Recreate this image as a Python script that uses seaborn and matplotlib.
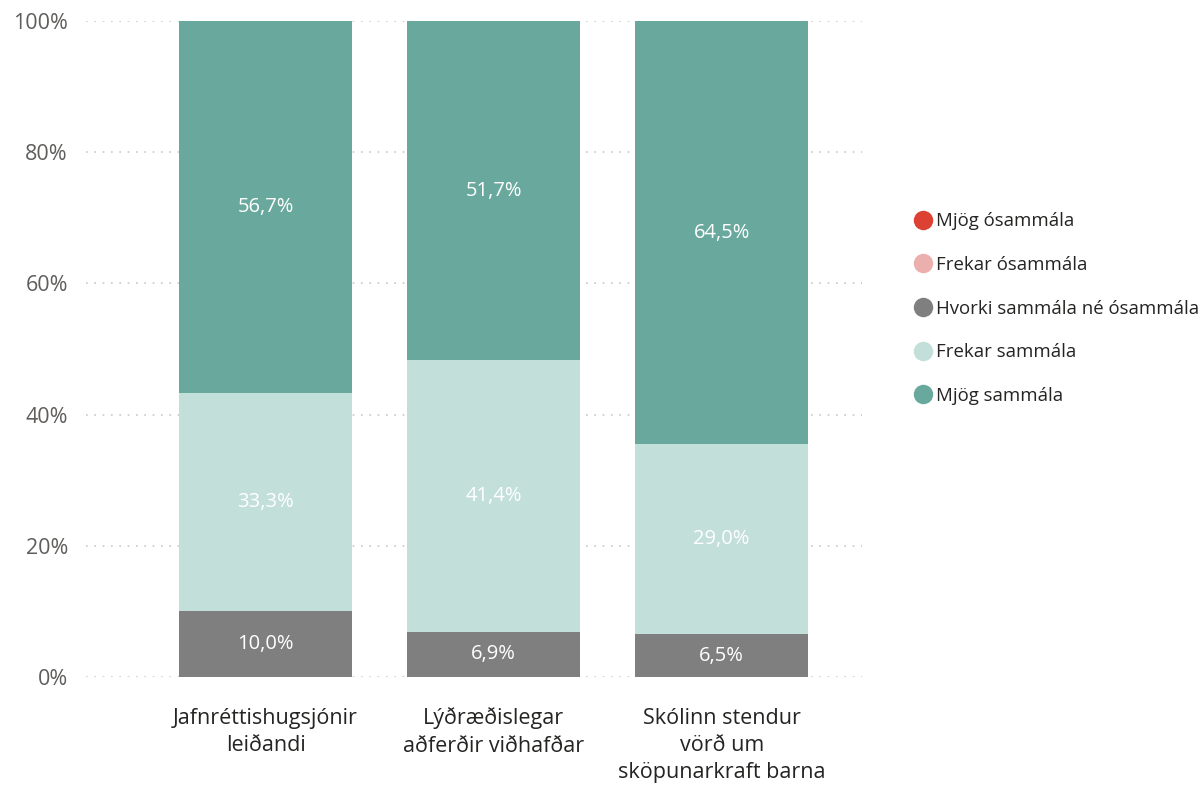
import matplotlib
matplotlib.use('Agg')
import matplotlib.pyplot as plt
import pandas as pd
import seaborn as sns
from matplotlib.lines import Line2D
from matplotlib.ticker import FuncFormatter

# gögnin lesin af myndinni
flokkar = [
    'Jafnréttishugsjónir\nleiðandi',
    'Lýðræðislegar\naðferðir viðhafðar',
    'Skólinn stendur\nvörð um\nsköpunarkraft barna',
]
svor = ['Mjög ósammála', 'Frekar ósammála', 'Hvorki sammála né ósammála',
        'Frekar sammála', 'Mjög sammála']
mjog_osammala = [0.0, 0.0, 0.0]
frekar_osammala = [0.0, 0.0, 0.0]
hvorki = [10.0, 6.9, 6.5]
frekar_sammala = [33.3, 41.4, 29.0]
mjog_sammala = [56.7, 51.7, 64.5]

litir = ['#DD4133', '#EBB0AE', '#7F7F7F', '#C3DFD9', '#69A99D']

df = pd.DataFrame({
    'flokkur': flokkar,
    svor[0]: mjog_osammala,
    svor[1]: frekar_osammala,
    svor[2]: hvorki,
    svor[3]: frekar_sammala,
    svor[4]: mjog_sammala,
})

sns.set_style('white')
plt.rcParams['font.family'] = ['Open Sans', 'DejaVu Sans']

fig = plt.figure(figsize=(12.03, 7.89), dpi=100)
ax = fig.add_axes([0.0715, 0.142, 0.645, 0.8314])

# staflað: teikna uppsafnaðar summur, efst fyrst
summa = df[svor].cumsum(axis=1)
for i in range(len(svor) - 1, -1, -1):
    sns.barplot(x=df['flokkur'], y=summa[svor[i]], color=litir[i],
                width=0.756, ax=ax, saturation=1, linewidth=0)

# merkingar inni í súlunum
for j in range(len(flokkar)):
    nedst = 0
    for i, s in enumerate(svor):
        v = df[s][j]
        if v > 0:
            ax.text(j, nedst + v / 2, f'{v:.1f}%'.replace('.', ','),
                    ha='center', va='center', color='white', fontsize=14.5)
        nedst += v

ax.set_ylim(0, 100)
ax.set_xlim(-0.787, 2.615)
ax.set_yticks([0, 20, 40, 60, 80, 100])
ax.yaxis.set_major_formatter(FuncFormatter(lambda v, p: f'{v:.0f}%'))
ax.grid(axis='y', linestyle=(0, (1, 4)), color='#C8C8C8', linewidth=1.2)
ax.set_axisbelow(True)
for sp in ax.spines.values():
    sp.set_visible(False)
ax.tick_params(axis='y', labelsize=15.5, labelcolor='#605E5C', length=0, pad=13)
ax.tick_params(axis='x', labelsize=15.5, labelcolor='#252423', length=0, pad=22)
for t in ax.get_xticklabels():
    t.set_linespacing(1.4)
ax.set_xlabel('')
ax.set_ylabel('')

handles = [Line2D([0], [0], marker='o', linestyle='', markersize=14,
                  markerfacecolor=c, markeredgewidth=0) for c in litir]
fig.legend(handles, svor, loc='upper left', bbox_to_anchor=(0.758, 0.731),
           frameon=False, fontsize=13.4, handletextpad=0.1,
           labelspacing=1.38, labelcolor='#252423', borderaxespad=0,
           borderpad=0, handlelength=1.2)

plt.savefig('out.png', dpi=100)
